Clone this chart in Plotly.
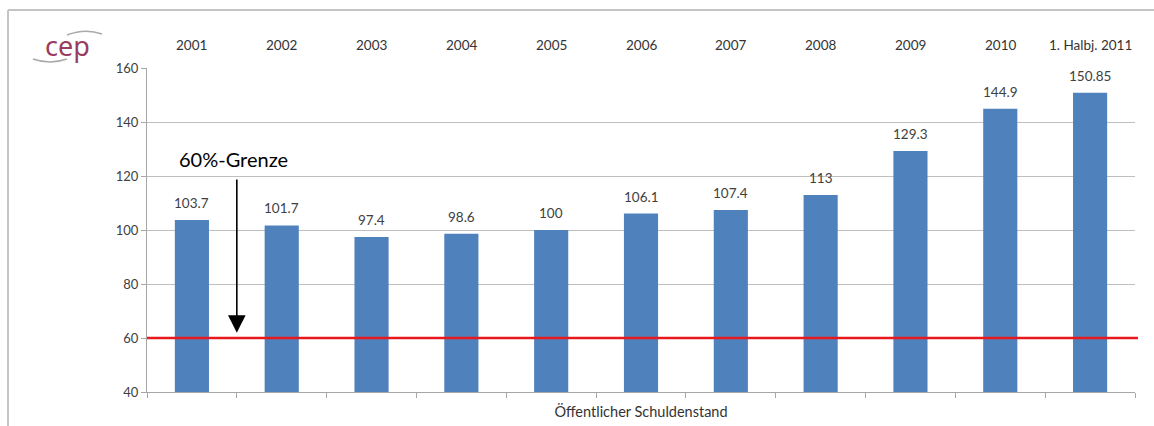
import plotly.graph_objects as go

# Public debt ratio (% of GDP) per period
categories = ["2001", "2002", "2003", "2004", "2005", "2006", "2007",
              "2008", "2009", "2010", "1. Halbj. 2011"]
debt_values = [103.7, 101.7, 97.4, 98.6, 100, 106.1, 107.4,
               113, 129.3, 144.9, 150.85]
limit_value = 60
limit_label = "60%-Grenze"
axis_title = "Öffentlicher Schuldenstand"
y_ticks = [40, 60, 80, 100, 120, 140, 160]

W, H = 1154, 426
L, R, T, B = 147, 19, 68, 34
plot_w = W - L - R
plot_h = H - T - B


def px_x(px):
    # pixel column -> paper fraction
    return (px - L) / plot_w


def px_y(py):
    # pixel row -> paper fraction
    return (H - B - py) / plot_h


BAR = "#4f81bd"
GRID = "#bfbfbf"
TXT = "#404040"
FONT = "Lato"

n = len(categories)
pos = list(range(n))
boundaries = [i - 0.5 for i in range(n + 1)]

fig = go.Figure()
fig.add_trace(go.Bar(
    x=pos,
    y=debt_values,
    width=0.38,
    marker=dict(color=BAR, line=dict(width=0)),
    hoverinfo="skip",
))

shapes = [
    # 60 % threshold line
    dict(type="line", xref="paper", yref="y", x0=0, x1=1.003,
         y0=limit_value, y1=limit_value, line=dict(color="#e8191d", width=2.5),
         layer="above"),
    # outer frame (top and left edge)
    dict(type="line", xref="paper", yref="paper",
         x0=px_x(8), x1=px_x(1160), y0=px_y(10), y1=px_y(10),
         line=dict(color="#c4c4c4", width=2)),
    dict(type="line", xref="paper", yref="paper",
         x0=px_x(8), x1=px_x(8), y0=px_y(10), y1=px_y(430),
         line=dict(color="#c4c4c4", width=2)),
    # logo swooshes
    dict(type="path", xref="paper", yref="paper",
         path=(f"M {px_x(67)} {px_y(35)} Q {px_x(85)} {px_y(28)} "
               f"{px_x(102)} {px_y(34)}"),
         line=dict(color="#a9a9a9", width=1.5)),
    dict(type="path", xref="paper", yref="paper",
         path=(f"M {px_x(33)} {px_y(59)} Q {px_x(50)} {px_y(65)} "
               f"{px_x(67)} {px_y(59)}"),
         line=dict(color="#a9a9a9", width=1.5)),
]

# category names along the top edge
annotations = [
    dict(x=i, y=px_y(45), xref="x", yref="paper", text=c, showarrow=False,
         font=dict(family=FONT, size=13.5, color="#333333"),
         xanchor="center", yanchor="middle")
    for i, c in enumerate(categories)
]
# value labels above each bar
annotations += [
    dict(x=i, y=v, xref="x", yref="y", text=f"{v:g}", showarrow=False,
         font=dict(family=FONT, size=13.5, color=TXT),
         xanchor="center", yanchor="middle", yshift=17)
    for i, v in enumerate(debt_values)
]
annotations += [
    # arrow pointing at the threshold
    dict(x=0.5, y=61.9, ax=0.5, ay=119.3, xref="x", yref="y",
         axref="x", ayref="y", text="", showarrow=True, arrowhead=2,
         arrowsize=2.2, arrowwidth=1.6, arrowcolor="#000000"),
    dict(x=0.46, y=126.3, xref="x", yref="y", text=limit_label,
         showarrow=False, font=dict(family=FONT, size=20, color="#000000"),
         xanchor="center", yanchor="middle"),
    # logo text
    dict(x=px_x(67), y=px_y(46), xref="paper", yref="paper", text="cep",
         showarrow=False, font=dict(family="Noto Sans", size=27, color="#9a3e60"),
         xanchor="center", yanchor="middle"),
]

fig.update_layout(
    width=W, height=H,
    margin=dict(l=L, r=R, t=T, b=B, pad=0, autoexpand=False),
    paper_bgcolor="white", plot_bgcolor="white",
    showlegend=False,
    shapes=shapes,
    annotations=annotations,
    font=dict(family=FONT, size=13, color=TXT),
    xaxis=dict(
        range=[-0.5, n - 0.5],
        tickvals=boundaries,
        showticklabels=False,
        ticks="outside", ticklen=5,
        tickcolor="#a6a6a6", tickwidth=1,
        showline=True, linecolor="#a6a6a6", linewidth=1,
        showgrid=False, zeroline=False,
        automargin=False,
        title=dict(text=axis_title, standoff=9,
                   font=dict(family=FONT, size=14.5, color="#333333")),
        fixedrange=True,
    ),
    yaxis=dict(
        range=[40, 160],
        tickvals=y_ticks,
        ticks="outside", ticklen=5, tickcolor="#a6a6a6",
        showline=True, linecolor="#a6a6a6", linewidth=1,
        showgrid=True, gridcolor=GRID, gridwidth=1,
        zeroline=False,
        automargin=False,
        tickfont=dict(family=FONT, size=13, color=TXT),
        fixedrange=True,
    ),
)

fig.write_html("out.html")
